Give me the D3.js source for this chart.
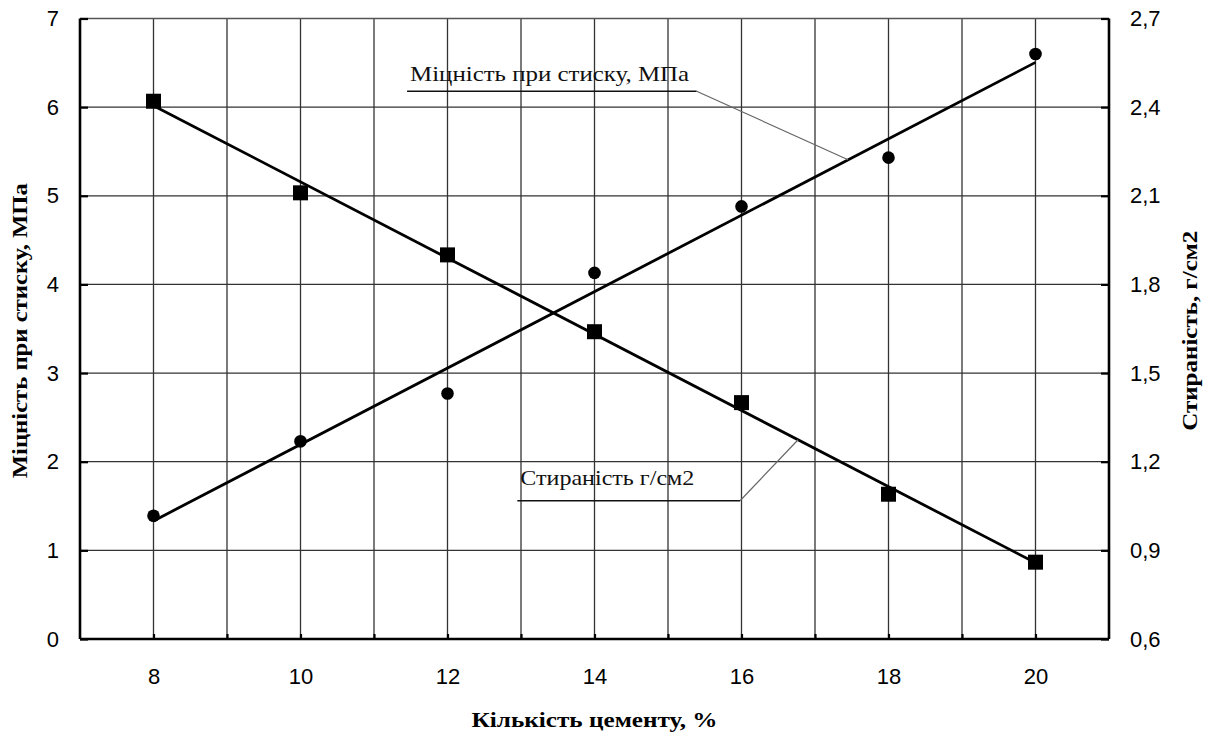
<!DOCTYPE html>
<html>
<head>
<meta charset="utf-8">
<script src="https://cdn.jsdelivr.net/npm/d3@7/dist/d3.min.js"></script>
<style>
  html, body { margin: 0; padding: 0; background: #fff; }
  svg { display: block; }
</style>
</head>
<body>
<svg id="chart" width="1205" height="733"></svg>
<script>
// ---- data ----
const cement   = [8, 10, 12, 14, 16, 18, 20];
const strength = [1.39, 2.23, 2.77, 4.13, 4.88, 5.43, 6.60];   // МПа (left axis)
const abrasion = [2.42, 2.11, 1.90, 1.64, 1.40, 1.09, 0.86];   // г/см2 (right axis)
const xTickLabels = [8, 10, 12, 14, 16, 18, 20];
const leftTickLabels  = [0, 1, 2, 3, 4, 5, 6, 7];
const rightTickLabels = [0.6, 0.9, 1.2, 1.5, 1.8, 2.1, 2.4, 2.7];
const xTitle = "Кількість цементу, %";
const yLeftTitle = "Міцність при стиску, МПа";
const yRightTitle = "Стираність, г/см2";
const labelStrength = "Міцність при стиску, МПа";
const labelAbrasion = "Стираність г/см2";

// ---- layout ----
const L = 80, R = 1109, T = 18.5, B = 639;
const svg = d3.select("#chart");
const x  = d3.scaleLinear().domain([7, 21]).range([L, R]);
const yL = d3.scaleLinear().domain([0, 7]).range([B, T]);
const yR = d3.scaleLinear().domain([0.6, 2.7]).range([B, T]);

const fmtComma = v => d3.format(".1f")(v).replace(".", ",");

// ---- gridlines ----
const grid = svg.append("g").attr("stroke", "#333").attr("stroke-width", 1.3);
d3.range(8, 21).forEach(v => {
  grid.append("line").attr("x1", x(v)).attr("x2", x(v)).attr("y1", yL(7)).attr("y2", B);
});
d3.range(1, 8).forEach(v => {
  grid.append("line").attr("x1", L).attr("x2", R).attr("y1", yL(v)).attr("y2", yL(v))
    .attr("stroke", v === 7 ? "#555" : "#333");
});

// ---- axes ----
const fontTick = "'Liberation Sans', Arial, sans-serif";
const axL = d3.axisLeft(yL).tickValues(leftTickLabels).tickSize(-8).tickPadding(22).tickFormat(d3.format("d"));
const axR = d3.axisRight(yR).tickValues(rightTickLabels).tickSize(-8).tickPadding(21).tickFormat(fmtComma);
const axB = d3.axisBottom(x).tickValues(d3.range(8, 21)).tickSize(-5).tickPadding(30)
  .tickFormat(v => xTickLabels.includes(v) ? String(v) : "");

function styleAxis(g) {
  g.select(".domain").attr("stroke", "#000").attr("stroke-width", 2.6);
  g.selectAll(".tick line").attr("stroke", "#000").attr("stroke-width", 2.2);
  g.selectAll(".tick text").attr("font-family", fontTick).attr("font-size", 22).attr("fill", "#000");
}
const gL = svg.append("g").attr("transform", `translate(${L},0)`).call(axL).call(styleAxis);
gL.select(".domain").attr("d", `M0,${T}V${B}`);
gL.selectAll(".tick text").attr("x", -21);
const gR = svg.append("g").attr("transform", `translate(${R},0)`).call(axR).call(styleAxis);
gR.select(".domain").attr("d", `M0,${T}V${B}`);
gR.selectAll(".tick text").attr("x", 21);
const gB = svg.append("g").attr("transform", `translate(0,${B})`).call(axB).call(styleAxis);
gB.select(".domain").attr("d", `M${L},0H${R}`);
gB.selectAll(".tick text").attr("y", 29).attr("dy", "0.71em");

// ---- trend lines (least squares from data) ----
function fit(xs, ys) {
  const mx = d3.mean(xs), my = d3.mean(ys);
  const sxy = d3.sum(xs, (v, i) => (v - mx) * (ys[i] - my));
  const sxx = d3.sum(xs, v => (v - mx) ** 2);
  const b = sxy / sxx, a = my - b * mx;
  return v => a + b * v;
}
const fS = fit(cement, strength);
const fA = fit(cement, abrasion);
const x0 = d3.min(cement), x1 = d3.max(cement);

svg.append("line")
  .attr("x1", x(x0)).attr("y1", yL(fS(x0))).attr("x2", x(x1)).attr("y2", yL(fS(x1)))
  .attr("stroke", "#000").attr("stroke-width", 2.8);
svg.append("line")
  .attr("x1", x(x0)).attr("y1", yR(fA(x0))).attr("x2", x(x1)).attr("y2", yR(fA(x1)))
  .attr("stroke", "#000").attr("stroke-width", 2.8);

// ---- markers ----
svg.append("g").selectAll("circle").data(cement).join("circle")
  .attr("cx", d => x(d)).attr("cy", (d, i) => yL(strength[i])).attr("r", 6.3).attr("fill", "#000");
const sq = 15;
svg.append("g").selectAll("rect").data(cement).join("rect")
  .attr("x", d => x(d) - sq / 2).attr("y", (d, i) => yR(abrasion[i]) - sq / 2)
  .attr("width", sq).attr("height", sq).attr("fill", "#000");

// ---- callouts ----
const serif = "'Liberation Serif', 'Times New Roman', serif";
function callout(text, ux0, ux1, uy, tipX, tipY, textLen, baseOff) {
  svg.append("line").attr("x1", x(ux0)).attr("x2", x(ux1)).attr("y1", yL(uy)).attr("y2", yL(uy))
    .attr("stroke", "#111").attr("stroke-width", 1.4);
  svg.append("line").attr("x1", x(ux1)).attr("y1", yL(uy)).attr("x2", tipX).attr("y2", tipY)
    .attr("stroke", "#666").attr("stroke-width", 1.2);
  svg.append("text").attr("x", x(ux0) + 3).attr("y", yL(uy) - baseOff)
    .attr("font-family", serif).attr("font-size", 21).attr("fill", "#111")
    .attr("textLength", textLen).attr("lengthAdjust", "spacingAndGlyphs")
    .text(text);
}
const tipS = 17.45, tipA = 16.77;
callout(labelStrength, 11.45, 15.39, 6.18, x(tipS), yL(fS(tipS)), 279, 10);
callout(labelAbrasion, 12.95, 15.98, 1.56, x(tipA), yR(fA(tipA)), 174, 16);

// ---- axis titles ----
svg.append("text").attr("x", (L + R) / 2).attr("y", 727).attr("text-anchor", "middle")
  .attr("font-family", serif).attr("font-weight", "bold").attr("font-size", 20)
  .attr("textLength", 246).attr("lengthAdjust", "spacingAndGlyphs").text(xTitle);
svg.append("text").attr("transform", `translate(27,${(T + B) / 2 + 2}) rotate(-90)`)
  .attr("text-anchor", "middle")
  .attr("font-family", serif).attr("font-weight", "bold").attr("font-size", 20)
  .attr("textLength", 295).attr("lengthAdjust", "spacingAndGlyphs").text(yLeftTitle);
svg.append("text").attr("transform", `translate(1197,${(T + B) / 2 + 2}) rotate(-90)`)
  .attr("text-anchor", "middle")
  .attr("font-family", serif).attr("font-weight", "bold").attr("font-size", 20)
  .attr("textLength", 200).attr("lengthAdjust", "spacingAndGlyphs").text(yRightTitle);
</script>
</body>
</html>
